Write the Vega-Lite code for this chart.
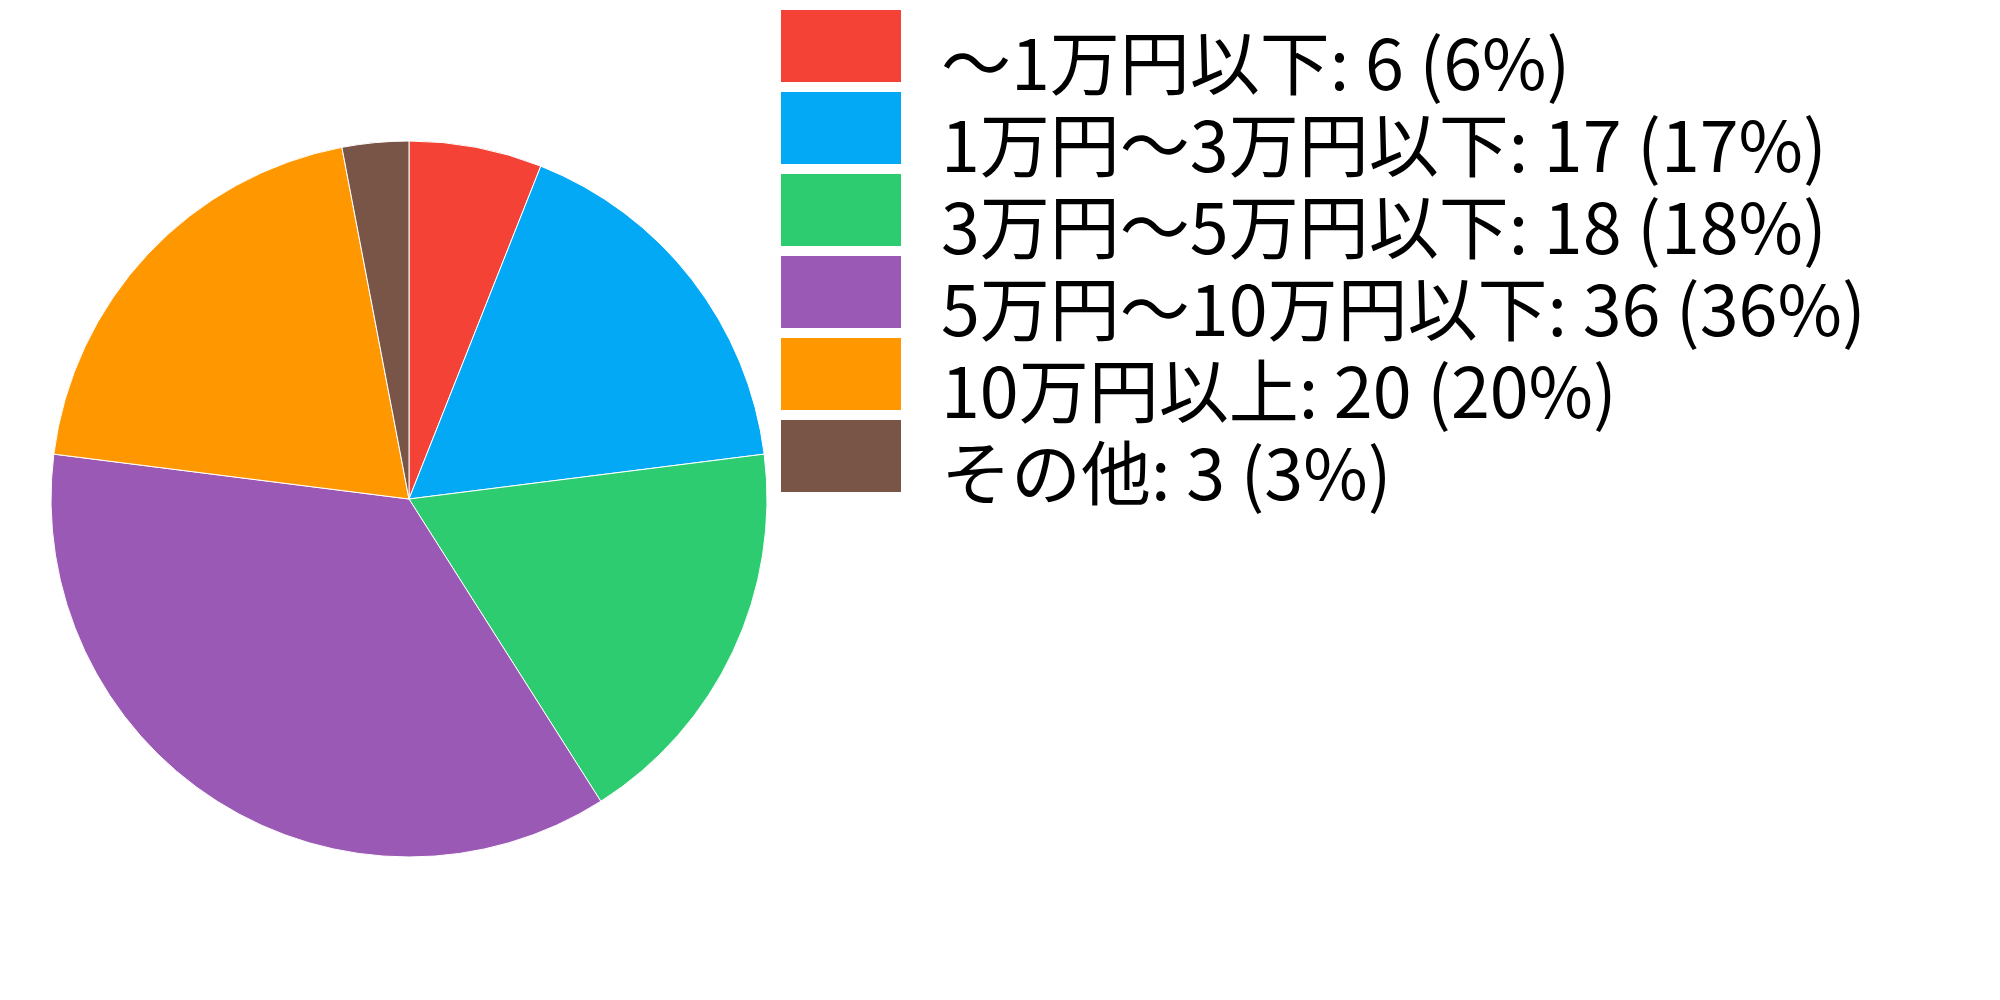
{
  "$schema": "https://vega.github.io/schema/vega-lite/v6.json",
  "width": 818,
  "height": 998,
  "autosize": {"type": "none"},
  "padding": {"left": 0, "top": 0, "right": 1182, "bottom": 2},
  "background": "white",
  "data": {
    "values": [
      {"idx": 1, "label": "〜1万円以下: 6 (6%)", "count": 6},
      {"idx": 2, "label": "1万円〜3万円以下: 17 (17%)", "count": 17},
      {"idx": 3, "label": "3万円〜5万円以下: 18 (18%)", "count": 18},
      {"idx": 4, "label": "5万円〜10万円以下: 36 (36%)", "count": 36},
      {"idx": 5, "label": "10万円以上: 20 (20%)", "count": 20},
      {"idx": 6, "label": "その他: 3 (3%)", "count": 3}
    ]
  },
  "mark": {"type": "arc", "outerRadius": 358, "stroke": "white", "strokeWidth": 1},
  "encoding": {
    "theta": {"field": "count", "type": "quantitative", "stack": true},
    "order": {"field": "idx", "type": "quantitative"},
    "color": {
      "field": "label",
      "type": "nominal",
      "sort": null,
      "scale": {
        "domain": [
          "〜1万円以下: 6 (6%)",
          "1万円〜3万円以下: 17 (17%)",
          "3万円〜5万円以下: 18 (18%)",
          "5万円〜10万円以下: 36 (36%)",
          "10万円以上: 20 (20%)",
          "その他: 3 (3%)"
        ],
        "range": ["#F44336", "#03A9F4", "#2ECC71", "#9B59B6", "#FF9800", "#795548"]
      },
      "legend": {
        "title": null,
        "orient": "none",
        "legendX": 781,
        "legendY": 10,
        "padding": 0,
        "clipHeight": 72,
        "symbolType": "M-1,-0.6H1V0.6H-1Z",
        "symbolSize": 14400,
        "symbolStrokeWidth": 0,
        "symbolOpacity": 1,
        "symbolOffset": 0,
        "labelExpr": "''",
        "labelFontSize": 1,
        "labelOpacity": 0,
        "rowPadding": 10
      }
    },
    "opacity": {
      "field": "label",
      "type": "nominal",
      "sort": null,
      "scale": {"range": [1, 1, 1, 1, 1, 1]},
      "legend": {
        "title": null,
        "orient": "none",
        "legendX": 781,
        "legendY": 34,
        "padding": 0,
        "clipHeight": 70,
        "symbolSize": 0,
        "symbolStrokeWidth": 0,
        "symbolOpacity": 0,
        "symbolOffset": 0,
        "labelFont": "Noto Sans CJK JP",
        "labelFontSize": 70,
        "labelBaseline": "middle",
        "labelColor": "black",
        "labelOffset": 90,
        "labelLimit": 0,
        "rowPadding": 12
      }
    }
  },
  "config": {
    "view": {"stroke": null}
  }
}
